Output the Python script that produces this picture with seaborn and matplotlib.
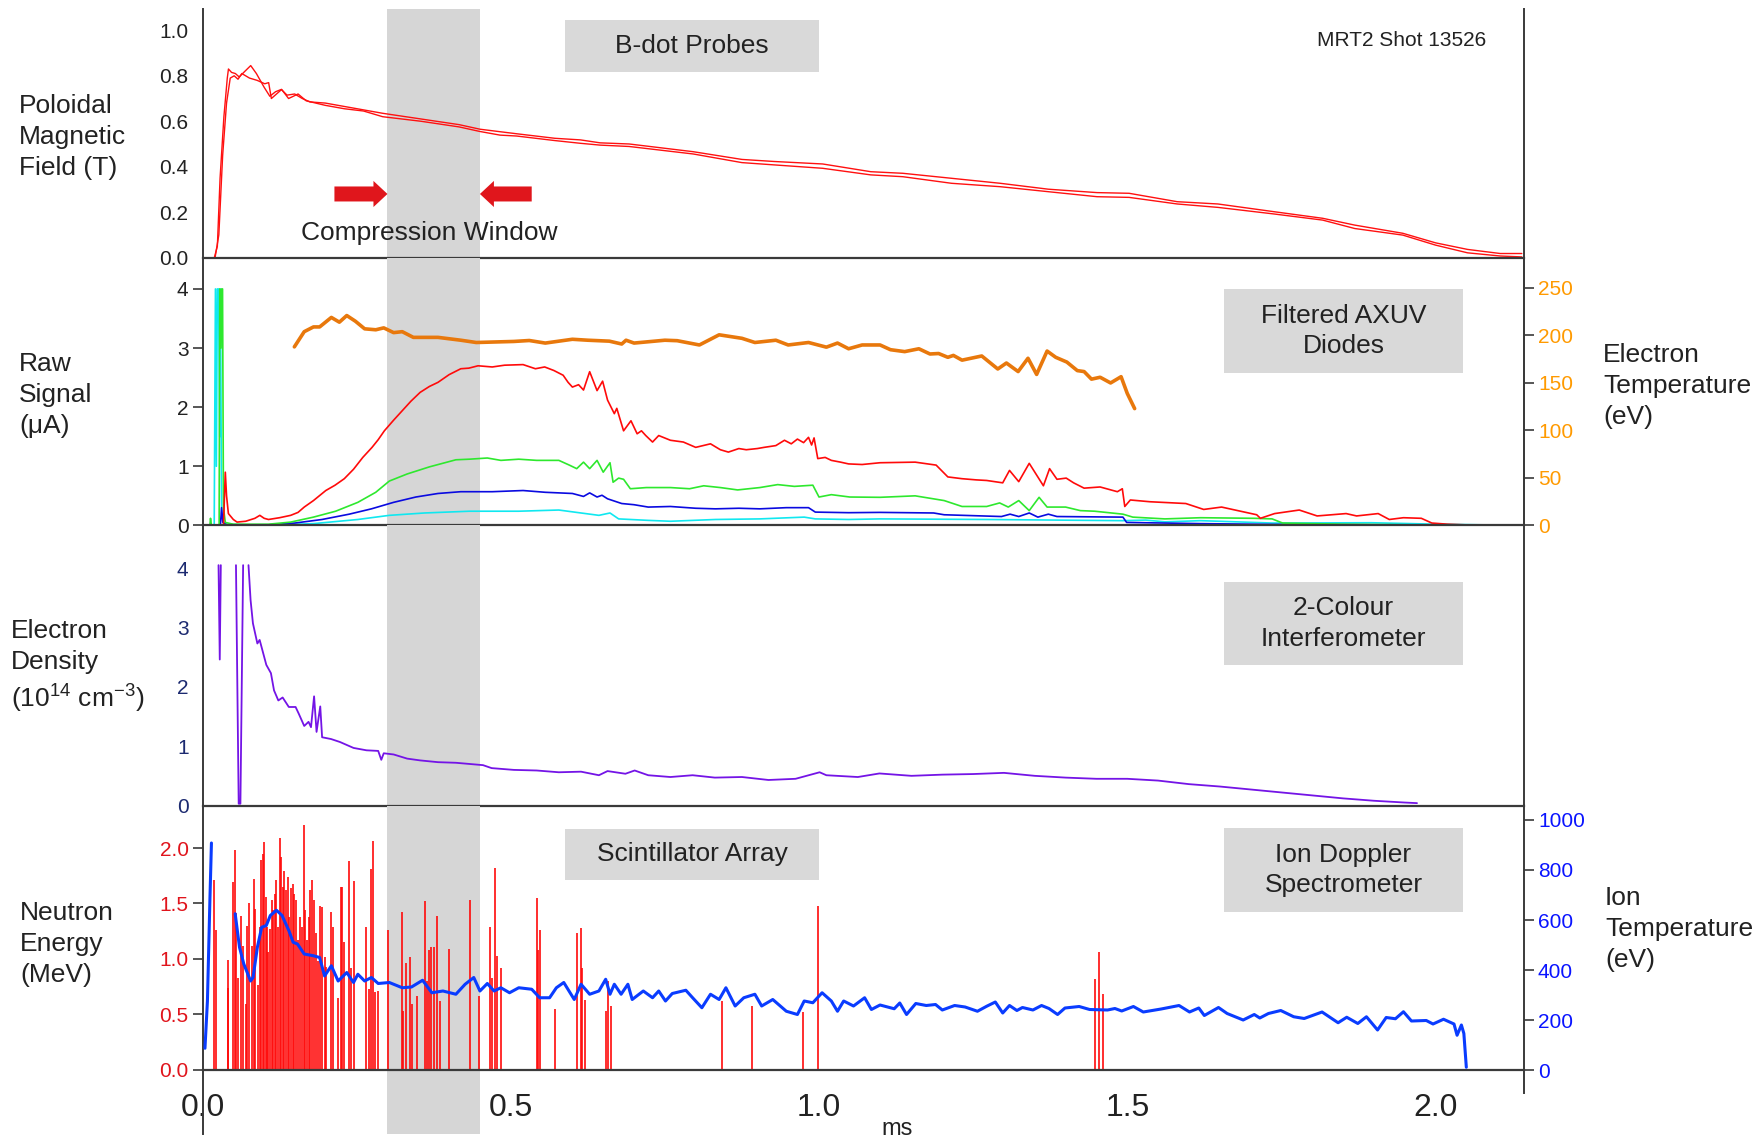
import numpy as np
import pandas as pd
import matplotlib
matplotlib.use("Agg")
import matplotlib.pyplot as plt
from matplotlib.patches import Rectangle
import seaborn as sns

sns.set_style("white")
plt.rcParams['font.family'] = ['Liberation Sans', 'DejaVu Sans']
plt.rcParams['mathtext.fontset'] = 'custom'
plt.rcParams['mathtext.rm'] = 'Liberation Sans'
plt.rcParams['mathtext.it'] = 'Liberation Sans:italic'

# ---------------- data ----------------
# Panel 1: B-dot probes (T)
bdot_a_t = [0.0, 0.0099, 0.0142, 0.0192, 0.0241, 0.0285, 0.0347, 0.0402, 0.0421, 0.0471, 0.0533, 0.0595,
            0.0688, 0.0782, 0.0874, 0.0999, 0.1092, 0.1185, 0.1278, 0.1371, 0.1495, 0.1619, 0.1744, 0.1992,
            0.2302, 0.2613, 0.2923, 0.3544, 0.4164, 0.450, 0.4826, 0.5095, 0.5716, 0.613, 0.6449, 0.692,
            0.796, 0.875, 0.927, 1.006, 1.084, 1.136, 1.215, 1.294, 1.372, 1.451, 1.503, 1.581, 1.647,
            1.738, 1.817, 1.869, 1.947, 2.0, 2.052, 2.105, 2.14]
bdot_a_v = [0.0, -0.005, -0.01, 0.0, 0.05, 0.35, 0.62, 0.79, 0.83, 0.815, 0.81, 0.795,
            0.82, 0.845, 0.81, 0.75, 0.71, 0.73, 0.74, 0.715, 0.72, 0.70, 0.685, 0.68,
            0.665, 0.65, 0.635, 0.61, 0.585, 0.565, 0.554, 0.545, 0.525, 0.518, 0.505, 0.50,
            0.466, 0.432, 0.423, 0.412, 0.378, 0.371, 0.349, 0.327, 0.301, 0.286, 0.283, 0.246, 0.236,
            0.202, 0.173, 0.143, 0.107, 0.065, 0.036, 0.018, 0.018]
bdot_b_t = [0.0, 0.0142, 0.0204, 0.0265, 0.0327, 0.039, 0.045, 0.0514, 0.0576, 0.0638, 0.0762, 0.0886,
            0.101, 0.1073, 0.1117, 0.1284, 0.1396, 0.155, 0.1682, 0.1992, 0.2302, 0.2613, 0.2923, 0.3544,
            0.4164, 0.450, 0.4826, 0.5095, 0.5716, 0.613, 0.6449, 0.692, 0.796, 0.875, 0.927, 1.006,
            1.084, 1.136, 1.215, 1.294, 1.372, 1.451, 1.503, 1.581, 1.647, 1.738, 1.817, 1.869, 1.947,
            2.0, 2.052, 2.105, 2.14]
bdot_b_v = [0.0, -0.01, 0.0, 0.1, 0.45, 0.68, 0.79, 0.80, 0.785, 0.81, 0.79, 0.78,
            0.765, 0.77, 0.70, 0.74, 0.70, 0.72, 0.69, 0.67, 0.655, 0.645, 0.62, 0.60,
            0.575, 0.555, 0.539, 0.535, 0.515, 0.503, 0.495, 0.489, 0.456, 0.418, 0.408, 0.393,
            0.364, 0.356, 0.327, 0.312, 0.290, 0.268, 0.265, 0.236, 0.221, 0.192, 0.165, 0.128, 0.099,
            0.055, 0.021, 0.007, 0.003]

# Panel 2: filtered AXUV diodes (uA) and electron temperature (eV)
red_t = [0.0, 0.034, 0.037, 0.039, 0.042, 0.05, 0.056, 0.07, 0.085, 0.093, 0.1, 0.107, 0.125, 0.143, 0.155,
         0.165, 0.18, 0.2, 0.215, 0.23, 0.245, 0.26, 0.275, 0.285, 0.295, 0.31, 0.324, 0.338, 0.353, 0.368,
         0.382, 0.4, 0.419, 0.432, 0.447, 0.47, 0.49, 0.52, 0.54, 0.555, 0.57, 0.585, 0.593, 0.6, 0.61,
         0.618, 0.628, 0.64, 0.649, 0.657, 0.668, 0.672, 0.683, 0.695, 0.705, 0.712, 0.719, 0.73, 0.74,
         0.759, 0.78, 0.8, 0.824, 0.84, 0.853, 0.87, 0.882, 0.9, 0.911, 0.93, 0.944, 0.955, 0.965, 0.975,
         0.983, 0.988, 0.992, 0.998, 1.01, 1.02, 1.035, 1.048, 1.07, 1.099, 1.156, 1.19, 1.209, 1.232,
         1.255, 1.272, 1.298, 1.309, 1.324, 1.341, 1.364, 1.374, 1.386, 1.401, 1.413, 1.43, 1.456, 1.484,
         1.492, 1.496, 1.505, 1.537, 1.595, 1.624, 1.653, 1.71, 1.716, 1.739, 1.779, 1.808, 1.855, 1.872,
         1.907, 1.925, 1.948, 1.977, 1.994, 2.02, 2.06, 2.143]
red_v = [0.0, 0.0, 0.9, 0.5, 0.2, 0.1, 0.056, 0.07, 0.12, 0.17, 0.12, 0.1, 0.13, 0.17, 0.22,
         0.31, 0.42, 0.59, 0.68, 0.79, 0.95, 1.15, 1.32, 1.45, 1.6, 1.78, 1.94, 2.1, 2.25, 2.35,
         2.42, 2.55, 2.65, 2.66, 2.7, 2.68, 2.71, 2.72, 2.65, 2.68, 2.62, 2.54, 2.42, 2.34, 2.38,
         2.29, 2.6, 2.28, 2.44, 2.12, 1.89, 1.98, 1.6, 1.77, 1.55, 1.6, 1.52, 1.41, 1.52,
         1.44, 1.41, 1.32, 1.38, 1.28, 1.24, 1.3, 1.28, 1.3, 1.32, 1.35, 1.44, 1.38, 1.46, 1.4,
         1.49, 1.36, 1.48, 1.13, 1.15, 1.1, 1.07, 1.04, 1.03, 1.06, 1.07, 1.02, 0.82, 0.79,
         0.77, 0.76, 0.72, 0.93, 0.74, 1.05, 0.67, 0.96, 0.78, 0.8, 0.72, 0.63, 0.65, 0.57,
         0.62, 0.32, 0.43, 0.40, 0.37, 0.27, 0.31, 0.18, 0.12, 0.2, 0.26, 0.16, 0.2, 0.16,
         0.2, 0.1, 0.13, 0.12, 0.04, 0.02, 0.005, 0.0]

green_t = [0.0, 0.012, 0.013, 0.0145, 0.027, 0.028, 0.03, 0.031, 0.0325, 0.034, 0.037, 0.05, 0.107, 0.143,
           0.18, 0.216, 0.252, 0.281, 0.303, 0.332, 0.368, 0.411, 0.433, 0.462, 0.484, 0.513, 0.542, 0.578,
           0.595, 0.607, 0.618, 0.628, 0.64, 0.65, 0.661, 0.666, 0.675, 0.683, 0.694, 0.72, 0.759, 0.79,
           0.813, 0.84, 0.868, 0.904, 0.933, 0.96, 0.99, 1.0, 1.02, 1.05, 1.099, 1.156, 1.203, 1.232,
           1.272, 1.293, 1.307, 1.324, 1.341, 1.357, 1.37, 1.4, 1.424, 1.447, 1.493, 1.509, 1.561, 1.619,
           1.706, 1.735, 1.752, 1.85, 2.004, 2.05, 2.143]
green_v = [0.0, 0.0, 0.12, 0.0, 0.0, 4.0, 3.0, 4.0, 4.0, 0.3, 0.05, 0.02, 0.02, 0.056,
           0.14, 0.24, 0.39, 0.56, 0.75, 0.87, 0.99, 1.11, 1.12, 1.14, 1.1, 1.12, 1.1, 1.1,
           1.02, 0.96, 1.07, 0.96, 1.1, 0.9, 1.06, 0.73, 0.8, 0.78, 0.62, 0.64, 0.64, 0.62,
           0.67, 0.64, 0.6, 0.64, 0.69, 0.66, 0.68, 0.48, 0.52, 0.48, 0.475, 0.5, 0.42, 0.32,
           0.32, 0.38, 0.31, 0.42, 0.25, 0.475, 0.31, 0.31, 0.25, 0.24, 0.19, 0.14, 0.11, 0.13,
           0.12, 0.11, 0.04, 0.02, 0.005, 0.0, 0.0]

blue_t = [0.0, 0.029, 0.031, 0.033, 0.04, 0.107, 0.15, 0.194, 0.238, 0.274, 0.31, 0.346, 0.382, 0.419,
          0.47, 0.52, 0.556, 0.6, 0.618, 0.628, 0.64, 0.648, 0.657, 0.68, 0.7, 0.723, 0.759, 0.8, 0.832,
          0.87, 0.904, 0.947, 0.983, 0.994, 1.048, 1.099, 1.186, 1.203, 1.296, 1.31, 1.324, 1.341, 1.355,
          1.372, 1.386, 1.493, 1.499, 1.619, 1.735, 2.143]
blue_v = [0.0, 0.0, 0.3, 0.05, 0.01, 0.01, 0.04, 0.1, 0.19, 0.28, 0.39, 0.48, 0.54, 0.57,
          0.57, 0.59, 0.56, 0.54, 0.49, 0.55, 0.48, 0.51, 0.45, 0.37, 0.35, 0.31, 0.32, 0.29, 0.28,
          0.29, 0.28, 0.3, 0.3, 0.225, 0.215, 0.22, 0.21, 0.18, 0.15, 0.19, 0.15, 0.21, 0.14,
          0.19, 0.15, 0.14, 0.05, 0.03, 0.017, 0.0]

cyan_t = [0.0, 0.019, 0.021, 0.0225, 0.024, 0.026, 0.028, 0.029, 0.031, 0.035, 0.1, 0.18, 0.252, 0.303,
          0.36, 0.433, 0.513, 0.578, 0.614, 0.643, 0.661, 0.675, 0.723, 0.759, 0.832, 0.904, 0.976, 0.994,
          1.048, 1.099, 1.272, 1.493, 1.53, 1.561, 1.619, 1.735, 1.896, 2.004, 2.143]
cyan_v = [0.0, 0.0, 4.0, 1.0, 4.0, 4.0, 1.5, 4.0, 0.2, 0.02, 0.0, 0.03, 0.1, 0.17,
          0.21, 0.24, 0.24, 0.26, 0.21, 0.17, 0.21, 0.11, 0.085, 0.07, 0.1, 0.11, 0.14, 0.11,
          0.1, 0.11, 0.10, 0.08, 0.09, 0.06, 0.08, 0.04, 0.045, 0.02, 0.0]

te_t = [0.149, 0.165, 0.18, 0.19, 0.209, 0.222, 0.234, 0.248, 0.263, 0.281, 0.294, 0.31, 0.324, 0.342,
        0.382, 0.419, 0.444, 0.505, 0.53, 0.556, 0.6, 0.625, 0.66, 0.68, 0.687, 0.7, 0.75, 0.77, 0.806,
        0.838, 0.875, 0.896, 0.93, 0.95, 0.983, 1.012, 1.03, 1.048, 1.07, 1.099, 1.116, 1.139, 1.162,
        1.18, 1.194, 1.209, 1.218, 1.232, 1.264, 1.29, 1.304, 1.323, 1.339, 1.353, 1.37, 1.384, 1.402,
        1.419, 1.43, 1.442, 1.456, 1.473, 1.49, 1.5, 1.512]
te_v = [188, 204, 209, 209, 219, 214, 221, 215, 207, 206, 208, 203, 204, 198,
        198, 195, 192.6, 193.7, 194.7, 192, 196, 195, 194, 191, 195, 192, 195, 194.5, 190,
        200.7, 197, 192.6, 195, 190, 192.6, 187.7, 192, 186, 190, 190, 185, 183, 186,
        180.5, 181, 177, 179, 174, 178.4, 164.7, 171, 162, 176, 159, 183.6, 177, 172,
        163, 162, 154, 156, 150, 156.6, 139, 123]

# Panel 3: electron density (1e14 cm^-3)
ne_seg1_t = [0.026, 0.028, 0.0297]
ne_seg1_v = [4.05, 2.46, 4.05]
ne_seg2_t = [0.0543, 0.0587, 0.0615, 0.0659]
ne_seg2_v = [4.05, 0.03, 0.03, 4.05]
ne_t = [0.0746, 0.078, 0.0818, 0.089, 0.0927, 0.1035, 0.111, 0.116, 0.123, 0.130, 0.140, 0.151, 0.156,
        0.165, 0.172, 0.176, 0.181, 0.185, 0.191, 0.194, 0.2085, 0.223, 0.245, 0.266, 0.285, 0.290, 0.294,
        0.310, 0.332, 0.353, 0.382, 0.411, 0.433, 0.455, 0.469, 0.505, 0.542, 0.578, 0.614, 0.643, 0.657,
        0.686, 0.701, 0.723, 0.759, 0.795, 0.831, 0.875, 0.918, 0.962, 1.001, 1.012, 1.063, 1.098, 1.15,
        1.2, 1.25, 1.3, 1.35, 1.4, 1.45, 1.5, 1.55, 1.6, 1.65, 1.7, 1.75, 1.8, 1.85, 1.9, 1.95, 1.97]
ne_v = [4.05, 3.46, 3.07, 2.73, 2.79, 2.37, 2.23, 1.94, 1.77, 1.82, 1.66, 1.66, 1.55,
        1.34, 1.41, 1.32, 1.84, 1.24, 1.67, 1.15, 1.12, 1.07, 0.97, 0.93, 0.92, 0.77, 0.88,
        0.86, 0.79, 0.76, 0.73, 0.72, 0.70, 0.68, 0.63, 0.60, 0.59, 0.56, 0.57, 0.51, 0.58,
        0.535, 0.59, 0.51, 0.48, 0.51, 0.47, 0.48, 0.43, 0.45, 0.56, 0.51, 0.48, 0.54, 0.50,
        0.52, 0.53, 0.55, 0.50, 0.47, 0.45, 0.45, 0.42, 0.36, 0.32, 0.27, 0.22, 0.17, 0.12, 0.08, 0.05, 0.04]

# Panel 4: neutron energy (MeV) and ion temperature (eV)
neut_t = [0.0188, 0.022, 0.041, 0.042, 0.049, 0.052, 0.054, 0.058, 0.062, 0.066, 0.07, 0.072, 0.076, 0.08,
          0.083, 0.085, 0.09, 0.093, 0.095, 0.098, 0.1, 0.103, 0.105, 0.107, 0.109, 0.112, 0.114, 0.117,
          0.119, 0.122, 0.125, 0.127, 0.13, 0.133, 0.135, 0.138, 0.14, 0.143, 0.146, 0.149, 0.152, 0.155,
          0.158, 0.161, 0.164, 0.167, 0.169, 0.172, 0.175, 0.178, 0.181, 0.184, 0.187, 0.191, 0.194, 0.198,
          0.201, 0.209, 0.212, 0.219, 0.224, 0.227, 0.23, 0.238, 0.241, 0.246, 0.266, 0.27, 0.274, 0.276,
          0.28, 0.285, 0.301, 0.323, 0.326, 0.33, 0.337, 0.34, 0.348, 0.361, 0.364, 0.368, 0.371, 0.375,
          0.381, 0.386, 0.4, 0.434, 0.449, 0.466, 0.469, 0.475, 0.478, 0.484, 0.542, 0.544, 0.547, 0.572,
          0.608, 0.614, 0.616, 0.621, 0.655, 0.657, 0.663, 0.843, 0.891, 0.974, 0.999, 1.447, 1.454, 1.461]
neut_v = [1.71, 1.26, 0.74, 0.99, 1.69, 1.98, 1.41, 0.83, 1.39, 1.12, 0.59, 1.3, 1.5, 1.12,
          1.72, 1.45, 0.77, 1.29, 1.89, 1.95, 2.05, 1.56, 1.29, 1.06, 1.27, 1.53, 1.44, 1.59,
          1.71, 1.29, 2.09, 1.92, 1.65, 1.79, 1.62, 1.74, 1.38, 1.64, 1.68, 1.59, 1.53, 1.17,
          1.38, 1.29, 2.21, 1.44, 1.17, 1.38, 1.62, 1.71, 1.53, 1.23, 0.98, 1.48, 1.47, 1.02,
          0.93, 1.42, 1.29, 0.65, 1.65, 1.65, 1.15, 1.88, 0.92, 1.7, 1.29, 0.73, 1.81, 2.06,
          0.70, 0.71, 1.26, 1.42, 0.53, 0.96, 1.02, 0.59, 0.67, 1.52, 0.8, 1.08, 1.11, 1.11,
          1.39, 0.62, 1.09, 1.53, 0.67, 1.29, 0.83, 1.82, 1.03, 0.92, 1.55, 1.08, 1.26, 0.55,
          1.23, 1.28, 0.92, 0.63, 0.53, 0.8, 0.58, 0.62, 0.58, 0.52, 1.48, 0.82, 1.06, 0.68]

ti_seg1_t = [0.004, 0.008, 0.012, 0.0145]
ti_seg1_v = [87, 276, 679, 908]
ti_t = [0.053, 0.06, 0.067, 0.078, 0.082, 0.089, 0.096, 0.1035, 0.11, 0.12, 0.129, 0.14, 0.147, 0.154,
        0.165, 0.18, 0.19, 0.198, 0.209, 0.22, 0.234, 0.245, 0.252, 0.263, 0.274, 0.285, 0.303, 0.324,
        0.339, 0.357, 0.372, 0.39, 0.411, 0.426, 0.44, 0.45, 0.462, 0.473, 0.484, 0.498, 0.513, 0.534,
        0.547, 0.563, 0.574, 0.586, 0.603, 0.614, 0.628, 0.643, 0.654, 0.661, 0.668, 0.679, 0.69, 0.697,
        0.715, 0.73, 0.74, 0.751, 0.762, 0.784, 0.795, 0.81, 0.824, 0.838, 0.849, 0.864, 0.878, 0.896,
        0.907, 0.925, 0.947, 0.965, 0.976, 0.99, 1.005, 1.02, 1.03, 1.04, 1.056, 1.074, 1.085, 1.099,
        1.122, 1.131, 1.142, 1.157, 1.174, 1.189, 1.2, 1.22, 1.237, 1.257, 1.272, 1.286, 1.298, 1.309,
        1.321, 1.33, 1.347, 1.361, 1.373, 1.387, 1.399, 1.422, 1.439, 1.468, 1.48, 1.491, 1.51, 1.526,
        1.555, 1.584, 1.601, 1.616, 1.625, 1.648, 1.662, 1.688, 1.706, 1.715, 1.729, 1.749, 1.77, 1.787,
        1.816, 1.842, 1.856, 1.874, 1.888, 1.906, 1.92, 1.935, 1.948, 1.961, 1.985, 1.996, 2.013, 2.03,
        2.035, 2.042, 2.046, 2.05]
ti_v = [625, 491, 424, 356, 370, 491, 571, 578, 618, 639, 618, 558, 511, 504,
        464, 457, 450, 376, 417, 356, 390, 350, 383, 356, 370, 346, 350, 329,
        332, 359, 309, 316, 303, 343, 370, 316, 346, 316, 329, 309, 329, 323,
        289, 289, 329, 350, 282, 343, 303, 316, 363, 303, 343, 303, 343, 282,
        316, 289, 316, 276, 306, 319, 289, 249, 303, 282, 329, 256, 289, 303,
        256, 282, 235, 222, 276, 269, 309, 276, 235, 276, 256, 289, 242, 260,
        245, 268, 222, 266, 258, 262, 240, 258, 252, 235, 255, 272, 228, 258,
        238, 250, 240, 258, 246, 222, 248, 254, 242, 240, 246, 236, 254, 232,
        244, 258, 232, 248, 218, 250, 226, 200, 222, 208, 226, 238, 213, 206,
        232, 189, 211, 186, 213, 160, 210, 205, 233, 196, 198, 184, 203, 184,
        139, 180, 146, 11]

# ---------------- layout helpers ----------------
FW, FH = 1764, 1138
fig = plt.figure(figsize=(FW / 100, FH / 100), dpi=100)

def fx(px):
    return px / FW

def fy(py):
    return 1 - py / FH

XL, XR = 202.5, 1524.0
XMAX = (XR - XL) / 616.5

def make_ax(top, bottom):
    return fig.add_axes([fx(XL), fy(bottom), fx(XR) - fx(XL), fy(top) - fy(bottom)])

ax1 = make_ax(9, 257.6)
ax2 = make_ax(257.6, 525.4)
ax3 = make_ax(525.4, 805.5)
ax4 = make_ax(805.5, 1134)

SPINE = '#3a3a3a'
TXT = '#222222'
SHADE = '#d6d6d6'
BOXC = '#d9d9d9'
LS = 1.36

for ax in (ax1, ax2, ax3, ax4):
    ax.set_xlim(0, XMAX)
    ax.set_facecolor('none')
    ax.axvspan(0.3, 0.45, color=SHADE, lw=0, zorder=0)
    ax.spines['top'].set_visible(False)
    ax.spines['left'].set_color(SPINE)
    ax.spines['left'].set_linewidth(1.4)
    ax.spines['bottom'].set_color(SPINE)
    ax.spines['bottom'].set_linewidth(1.6)
    ax.spines['right'].set_color(SPINE)
    ax.spines['right'].set_linewidth(1.4)
    ax.tick_params(axis='y', direction='out', length=7, width=1.2, color=SPINE, labelsize=15, pad=3)
    ax.grid(False)

for ax in (ax1, ax2, ax3):
    ax.tick_params(axis='x', bottom=False, labelbottom=False)

# ---------------- panel 1 ----------------
ax1.set_ylim(0, 1.094)
sns.lineplot(x=bdot_a_t, y=bdot_a_v, ax=ax1, color='#ff1010', lw=1.0, estimator=None, sort=False)
sns.lineplot(x=bdot_b_t, y=bdot_b_v, ax=ax1, color='#ff1010', lw=1.0, estimator=None, sort=False)
ax1.set_yticks([0, 0.2, 0.4, 0.6, 0.8, 1.0])
ax1.set_yticklabels(['0.0', '0.2', '0.4', '0.6', '0.8', '1.0'], color=TXT)
ax1.arrow(0.214, 0.28, 0.086, 0, width=0.066, head_width=0.115, head_length=0.0227,
          length_includes_head=True, color='#e0161c', ec='none', zorder=4)
ax1.arrow(0.534, 0.28, -0.084, 0, width=0.066, head_width=0.115, head_length=0.0227,
          length_includes_head=True, color='#e0161c', ec='none', zorder=4)
ax1.text(0.367, 0.108, 'Compression Window', ha='center', va='center', fontsize=19, color=TXT)

# ---------------- panel 2 ----------------
ax2.set_ylim(0, 4.53)
sns.lineplot(x=cyan_t, y=cyan_v, ax=ax2, color='#10e8f0', lw=1.2, estimator=None, sort=False)
sns.lineplot(x=blue_t, y=blue_v, ax=ax2, color='#0a0ae0', lw=1.2, estimator=None, sort=False)
sns.lineplot(x=green_t, y=green_v, ax=ax2, color='#2ee82e', lw=1.2, estimator=None, sort=False)
sns.lineplot(x=red_t, y=red_v, ax=ax2, color='#ff0a0a', lw=1.2, estimator=None, sort=False)
ax2.set_yticks([0, 1, 2, 3, 4])
ax2.set_yticklabels(['0', '1', '2', '3', '4'], color=TXT)

ax2t = ax2.twinx()
ax2t.set_xlim(0, XMAX)
ax2t.set_ylim(0, 282)
for s in ('top', 'left', 'bottom'):
    ax2t.spines[s].set_visible(False)
ax2t.spines['right'].set_color(SPINE)
ax2t.spines['right'].set_linewidth(1.4)
sns.lineplot(x=te_t, y=te_v, ax=ax2t, color='#e8780c', lw=2.6, estimator=None, sort=False)
ax2t.set_yticks([0, 50, 100, 150, 200, 250])
ax2t.set_yticklabels(['0', '50', '100', '150', '200', '250'], color='#ff9a00')
ax2t.tick_params(axis='y', direction='out', length=7, width=1.2, color=SPINE, labelsize=15, pad=3)
ax2t.grid(False)

# ---------------- panel 3 ----------------
ax3.set_ylim(0, 4.72)
for tt, vv in ((ne_seg1_t, ne_seg1_v), (ne_seg2_t, ne_seg2_v), (ne_t, ne_v)):
    sns.lineplot(x=tt, y=vv, ax=ax3, color='#7414e6', lw=1.3, estimator=None, sort=False)
ax3.set_yticks([0, 1, 2, 3, 4])
ax3.set_yticklabels(['0', '1', '2', '3', '4'], color='#1c2a70')

# ---------------- panel 4 ----------------
ax4.set_ylim(-0.577, 2.383)
ax4.spines['bottom'].set_position(('data', 0))
ax4.vlines(neut_t, 0, neut_v, color='#ff0a0a', lw=1.2, zorder=2)
ax4.set_yticks([0, 0.5, 1.0, 1.5, 2.0])
ax4.set_yticklabels(['0.0', '0.5', '1.0', '1.5', '2.0'], color='#e0141c')
ax4.set_xticks([0, 0.5, 1.0, 1.5, 2.0])
ax4.set_xticklabels(['0.0', '0.5', '1.0', '1.5', '2.0'], color=TXT)
ax4.tick_params(axis='x', direction='out', length=11.5, width=1.3, color=SPINE, labelsize=23, pad=5)

ax4t = ax4.twinx()
ax4t.set_xlim(0, XMAX)
ax4t.set_ylim(-256, 1058)
for s in ('top', 'left', 'bottom'):
    ax4t.spines[s].set_visible(False)
ax4t.spines['right'].set_color(SPINE)
ax4t.spines['right'].set_linewidth(1.4)
ax4t.spines['right'].set_bounds(-92, 1058)
ax4.spines['right'].set_visible(False)
sns.lineplot(x=ti_seg1_t, y=ti_seg1_v, ax=ax4t, color='#0a3cff', lw=2.2, estimator=None, sort=False)
sns.lineplot(x=ti_t, y=ti_v, ax=ax4t, color='#0a3cff', lw=2.2, estimator=None, sort=False)
ax4t.set_yticks([0, 200, 400, 600, 800, 1000])
ax4t.set_yticklabels(['0', '200', '400', '600', '800', '1000'], color='#0a14ff')
ax4t.tick_params(axis='y', direction='out', length=7, width=1.2, color=SPINE, labelsize=15, pad=3)
ax4t.grid(False)

for ax in (ax1, ax2, ax3, ax4, ax2t, ax4t):
    ax.set_xlabel('')
    ax.set_ylabel('')

# ---------------- annotations ----------------
def box(x0, y0, x1, y1, label):
    fig.add_artist(Rectangle((fx(x0), fy(y1)), fx(x1) - fx(x0), fy(y0) - fy(y1),
                             transform=fig.transFigure, facecolor=BOXC, edgecolor='none', zorder=5))
    fig.text(fx((x0 + x1) / 2), fy((y0 + y1) / 2), label, ha='center', va='center',
             fontsize=19, color=TXT, linespacing=LS, zorder=6)

box(565, 20, 819, 72, 'B-dot Probes')
box(1224, 289, 1463, 373, 'Filtered AXUV\nDiodes')
box(1224, 582, 1463, 665, '2-Colour\nInterferometer')
box(565, 829, 819, 880, 'Scintillator Array')
box(1224, 828, 1463, 912, 'Ion Doppler\nSpectrometer')

fig.text(fx(1486), fy(40), 'MRT2 Shot 13526', ha='right', va='center', fontsize=15, color=TXT)

def side_label(x, y, s):
    fig.text(fx(x), fy(y), s, ha='left', va='center', fontsize=19, color=TXT, linespacing=LS)

side_label(19, 137, 'Poloidal\nMagnetic\nField (T)')
side_label(19, 395, 'Raw\nSignal\n(\u03bcA)')
side_label(11, 667, 'Electron\nDensity\n(10$^{14}$ cm$^{-3}$)')
side_label(20, 944, 'Neutron\nEnergy\n(MeV)')
side_label(1603, 386, 'Electron\nTemperature\n(eV)')
side_label(1605, 929, 'Ion\nTemperature\n(eV)')

fig.text(fx(897), fy(1129), 'ms', ha='center', va='center', fontsize=17, color=TXT)

fig.savefig('out.png', dpi=100)
